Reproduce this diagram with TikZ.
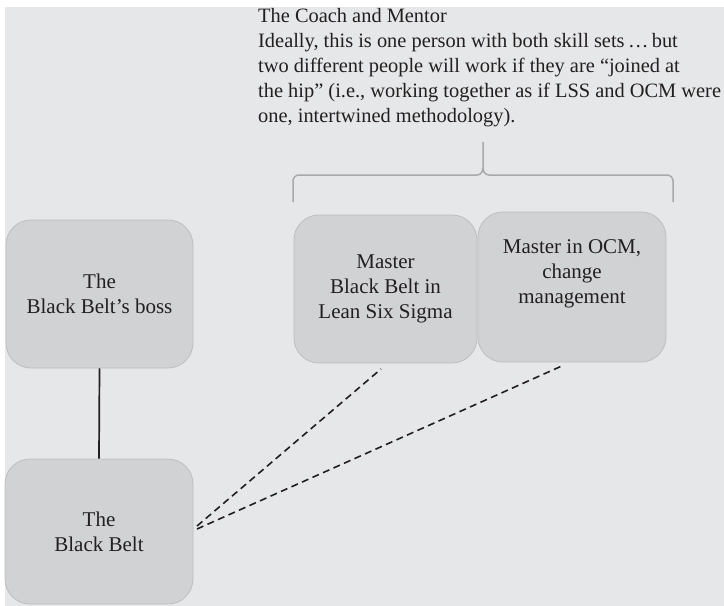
\documentclass[tikz,border=0pt]{standalone}
\usepackage{fontspec}
\setmainfont{Liberation Serif}
\definecolor{panel}{HTML}{E6E7E8}
\definecolor{boxfill}{HTML}{D1D2D4}
\definecolor{boxline}{HTML}{BCBEC0}
\definecolor{bracegray}{HTML}{A7A9AC}
\definecolor{ink}{HTML}{231F20}
\tikzset{
  x=1pt, y=1pt,
  rolebox/.style={draw=boxline, fill=boxfill, line width=0.8pt, rounded corners=25pt,
    minimum width=#1, align=center, text=ink, font=\fontsize{21}{25}\selectfont, inner sep=0pt},
  link/.style={ink, line width=1.7pt},
  dashlink/.style={ink, line width=1.6pt, dash pattern=on 7pt off 4.5pt},
}
\begin{document}
\begin{tikzpicture}
\useasboundingbox (0,0) rectangle (724,-606);
\fill[white] (0,0) rectangle (724,-606);
\fill[panel] (5,-7) rectangle (724,-606);

% the four roles
\node[rolebox=187pt, minimum height=148pt] (boss) at (99.5,-294) {The\\Black Belt’s boss};
\node[rolebox=188pt, minimum height=145pt] (bb) at (99,-531.5) {The\\Black Belt};
\node[rolebox=183pt, minimum height=148pt] (mbb) at (385.5,-289) {Master\\Black Belt in\\Lean Six Sigma};
\node[rolebox=188pt, minimum height=150pt] (ocm) at (572,-287) {Master in OCM,\\change\\management\\[6pt]};

% reporting line
\draw[link] (boss.south) -- (bb.north);

% coaching links
\coordinate (bbA) at (197,-526);
\coordinate (bbB) at (197,-529);
\coordinate (mbbEnd) at (381,-369);
\coordinate (ocmEnd) at (564,-365);
\draw[dashlink] (bbA) -- (mbbEnd);
\draw[dashlink] (bbB) -- (ocmEnd);

% brace grouping the two masters
\draw[bracegray, line width=1.5pt]
  (293,-202) -- (293,-181) to[out=90,in=180] (299,-175) -- (477,-175)
  to[out=0,in=-90] (483,-168) -- (483,-142);
\draw[bracegray, line width=1.5pt]
  (483,-168) to[out=-90,in=180] (489,-175) -- (667,-175)
  to[out=0,in=90] (673,-181) -- (673,-202);

% caption
\node[anchor=north west, align=left, text=ink, font=\fontsize{20.4}{25}\selectfont, inner sep=0pt] (note) at (258,-8)
  {The Coach and Mentor\\
   Ideally, this is one person with both skill sets\,\ldots\,but\\
   two different people will work if they are “joined at\\
   the hip” (i.e., working together as if LSS and OCM were\\
   one, intertwined methodology).};
\end{tikzpicture}
\end{document}
